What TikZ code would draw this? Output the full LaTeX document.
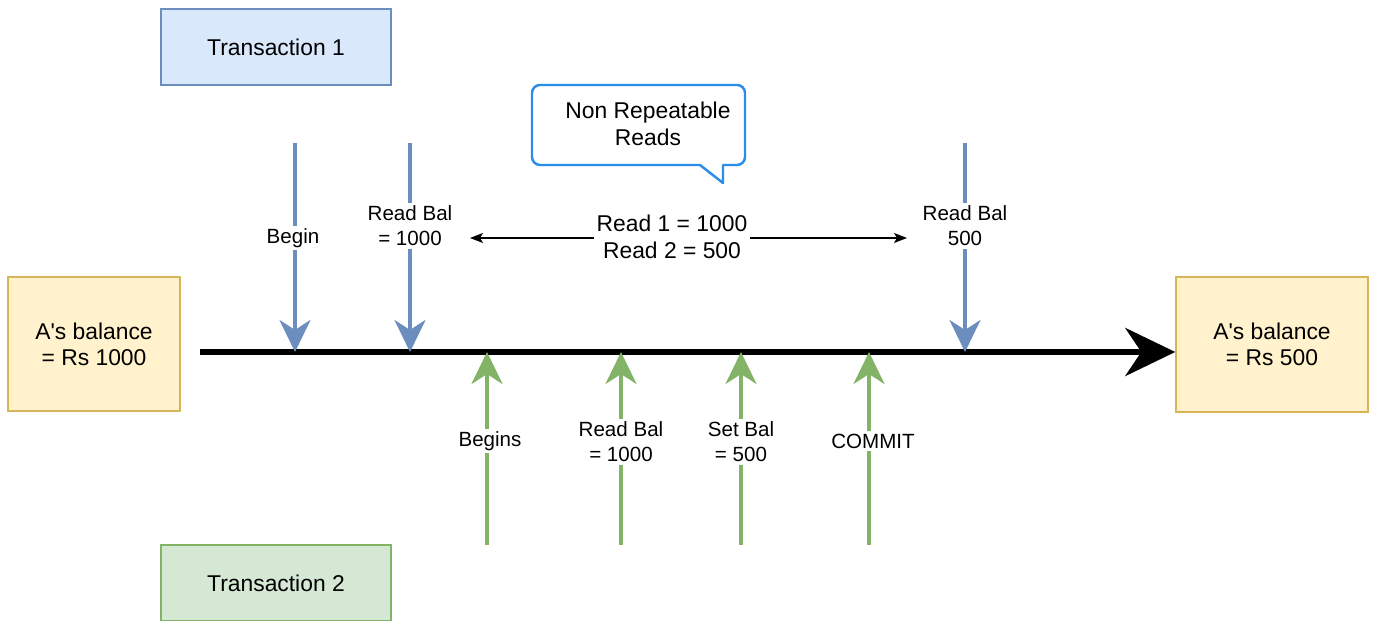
\documentclass[tikz,border=0pt]{standalone}
\usepackage{fontspec}
\setmainfont{Liberation Sans}
\usetikzlibrary{arrows.meta}
\definecolor{tonefill}{HTML}{DAE8FC}
\definecolor{toneline}{HTML}{6C8EBF}
\definecolor{ttwofill}{HTML}{D5E8D4}
\definecolor{ttwoline}{HTML}{82B366}
\definecolor{balfill}{HTML}{FFF2CC}
\definecolor{balline}{HTML}{D6B656}
\definecolor{callblue}{HTML}{2A8CEB}
\tikzset{
  box/.style={draw, line width=0.8pt, align=center, inner sep=0pt, font=\fontsize{13}{14.8}\selectfont},
  tone/.style={draw=toneline, line width=2.3pt, -{Stealth[length=0.64cm,width=0.62cm,inset=0.2cm]}},
  ttwo/.style={draw=ttwoline, line width=2.3pt, -{Stealth[length=0.64cm,width=0.62cm,inset=0.2cm]}},
  timeline/.style={draw=black, line width=3.4pt, -{Stealth[length=1cm,width=0.96cm,inset=0.32cm]}},
  dbl/.style={draw=black, line width=0.7pt, {Stealth[length=0.26cm,width=0.2cm,inset=0.06cm]}-{Stealth[length=0.26cm,width=0.2cm,inset=0.06cm]}},
  lab/.style={fill=white, align=center, inner sep=1.5pt, font=\fontsize{11.7}{14.2}\selectfont},
  labm/.style={fill=white, align=center, inner sep=1.5pt, font=\fontsize{13}{15.6}\selectfont},
  callbox/.style={draw=callblue, line width=1.4pt, line join=round},
}
\begin{document}
\begin{tikzpicture}
  \useasboundingbox (0,0) rectangle (27.48,12.42);

  % transactions and balances
  \node[box, fill=tonefill, draw=toneline, minimum width=4.6cm, minimum height=1.52cm] (tone) at (5.52,11.48) {Transaction 1};
  \node[box, fill=ttwofill, draw=ttwoline, minimum width=4.6cm, minimum height=1.52cm] (ttwo) at (5.52,0.76) {Transaction 2};
  \node[box, fill=balfill, draw=balline, minimum width=3.44cm, minimum height=2.68cm] (lbal) at (1.88,5.54) {A\textquotesingle s balance\\= Rs 1000};
  \node[box, fill=balfill, draw=balline, minimum width=3.84cm, minimum height=2.7cm] (rbal) at (25.44,5.53) {A\textquotesingle s balance\\= Rs 500};

  % time line
  \coordinate (tlS) at (4.0,5.38);
  \draw[timeline] (tlS) -- (rbal.west |- tlS);

  % transaction 1
  \coordinate (aBeg) at (5.9,9.56);
  \coordinate (bBeg) at (5.9,5.38);
  \coordinate (aRd) at (8.2,9.56);
  \coordinate (bRd) at (8.2,5.38);
  \coordinate (aRdTwo) at (19.3,9.56);
  \coordinate (bRdTwo) at (19.3,5.38);
  \draw[tone] (aBeg) -- (bBeg);
  \draw[tone] (aRd) -- (bRd);
  \draw[tone] (aRdTwo) -- (bRdTwo);
  \node[lab] (lBeg) at (5.86,7.66) {Begin};
  \node[lab] (lRd) at (8.2,7.9) {Read Bal\\= 1000};
  \node[lab] (lRdTwo) at (19.3,7.9) {Read Bal\\500};

  % transaction 2
  \coordinate (cBeg) at (9.74,1.52);
  \coordinate (dBeg) at (9.74,5.38);
  \coordinate (cRd) at (12.42,1.52);
  \coordinate (dRd) at (12.42,5.38);
  \coordinate (cSet) at (14.82,1.52);
  \coordinate (dSet) at (14.82,5.38);
  \coordinate (cCom) at (17.38,1.52);
  \coordinate (dCom) at (17.38,5.38);
  \draw[ttwo] (cBeg) -- (dBeg);
  \draw[ttwo] (cRd) -- (dRd);
  \draw[ttwo] (cSet) -- (dSet);
  \draw[ttwo] (cCom) -- (dCom);
  \node[lab] (lBegs) at (9.8,3.6) {Begins};
  \node[lab] (lRdT) at (12.42,3.58) {Read Bal\\= 1000};
  \node[lab] (lSet) at (14.82,3.58) {Set Bal\\= 500};
  \node[lab] (lCom) at (17.46,3.6) {COMMIT};

  % the two reads
  \coordinate (rdA) at (9.4,7.66);
  \coordinate (rdB) at (18.14,7.66);
  \draw[dbl] (rdA) -- (rdB);
  \node[labm] (lReads) at (13.44,7.68) {Read 1 = 1000\\Read 2 = 500};

  % callout
  \draw[callbox] (12.5,10.72) [rounded corners=0.16cm] -- (14.9,10.72) -- (14.9,9.12) [sharp corners] -- (14.46,9.12) -- (14.46,8.76) -- (14.0,9.12) [rounded corners=0.16cm] -- (10.64,9.12) -- (10.64,10.72) -- cycle;
  \node[labm, fill=none] (lNon) at (12.96,9.94) {Non Repeatable\\Reads};
\end{tikzpicture}
\end{document}
